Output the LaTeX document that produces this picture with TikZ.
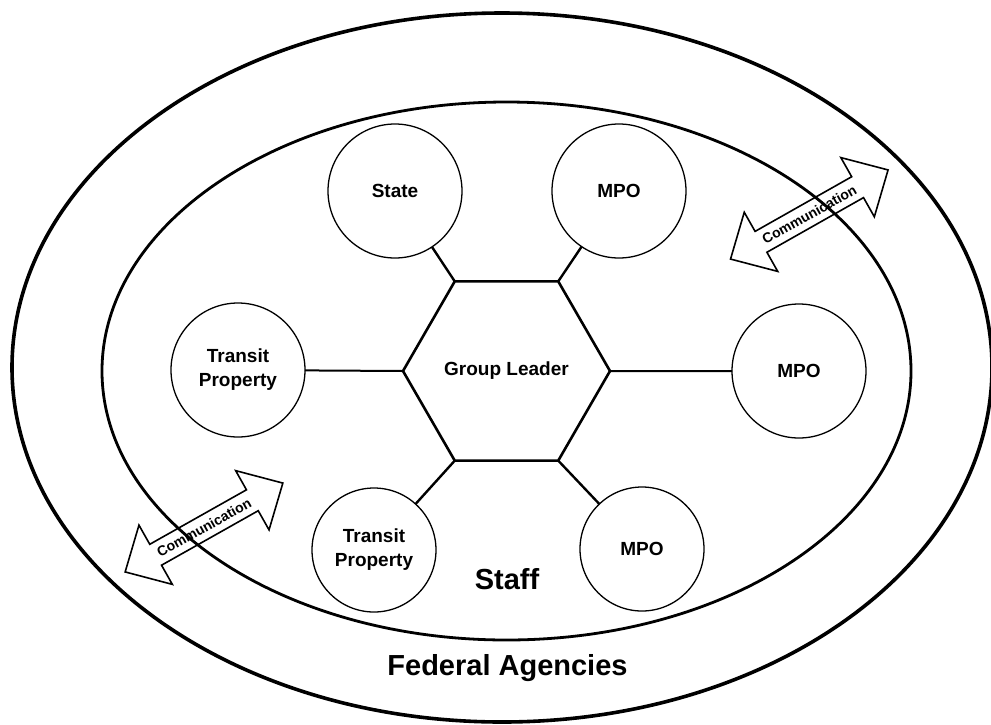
\documentclass[tikz,border=0pt]{standalone}
\usepackage{fontspec}
\setmainfont{Liberation Sans}
\usetikzlibrary{shapes.geometric}
\begin{document}
\begin{tikzpicture}[x=1pt,y=-1pt,
  member/.style={circle, draw, line width=1.3pt, inner sep=0pt, outer sep=0pt, align=center,
    font=\fontsize{19}{24}\selectfont\bfseries},
  bigm/.style={member, minimum size=134pt},
  smallm/.style={member, minimum size=124pt},
  hexbox/.style={regular polygon, regular polygon sides=6, draw, line width=2.6pt,
    minimum size=207pt, inner sep=0pt, outer sep=0pt, font=\fontsize{19}{24}\selectfont\bfseries},
  link/.style={line width=2.4pt},
  hlink/.style={line width=2pt},
  biglabel/.style={font=\fontsize{29}{34}\selectfont\bfseries, inner sep=0pt, anchor=base},
  commarrow/.style={line width=1.6pt, line join=miter},
  commtext/.style={font=\fontsize{14}{16}\selectfont\bfseries, inner sep=0pt}
]
\useasboundingbox (0,0) rectangle (991,724);

% federal agencies (outer) and staff (inner) ellipses
\draw[line width=3.6pt] (502,367.5) ellipse [x radius=490pt, y radius=354.5pt];
\draw[line width=2.8pt] (506.5,371) ellipse [x radius=404.5pt, y radius=269pt];

% hexagon
\node[hexbox] (hex) at (506.5,371) {Group Leader};

% member circles
\node[bigm] (state) at (395,191) {State};
\node[bigm] (mpoA) at (619,191) {MPO};
\node[bigm] (transL) at (238,370) {Transit\\Property};
\node[bigm] (mpoR) at (799,371) {MPO};
\node[smallm] (transB) at (374,550) {Transit\\Property};
\node[smallm] (mpoB) at (642,549) {MPO};

% connectors
\draw[link] (hex.120) -- (state);
\draw[link] (hex.60) -- (mpoA);
\draw[hlink] (hex.180) -- (transL);
\draw[hlink] (hex.0) -- (mpoR);
\draw[link] (hex.240) -- (transB);
\draw[link] (hex.300) -- (mpoB);

% labels
\node[biglabel] (staff) at (507,589) {Staff};
\node[biglabel] (fed) at (507.5,675) {Federal Agencies};

% communication arrows
\begin{scope}[shift={(809.3,214.5)}, rotate=29.5]
  \draw[commarrow] (-90.5,0) -- (-55.5,34) -- (-55.5,12) -- (55.5,12) -- (55.5,34) -- (90.5,0)
    -- (55.5,-34) -- (55.5,-12) -- (-55.5,-12) -- (-55.5,-34) -- cycle;
\end{scope}
\node[commtext, rotate=29.5] (commA) at (809.3,214.5) {Communication};

\begin{scope}[shift={(204,527.5)}, rotate=29.4]
  \draw[commarrow] (-90.5,0) -- (-55.5,34) -- (-55.5,12) -- (55.5,12) -- (55.5,34) -- (90.5,0)
    -- (55.5,-34) -- (55.5,-12) -- (-55.5,-12) -- (-55.5,-34) -- cycle;
\end{scope}
\node[commtext, rotate=29.4] (commB) at (204,527.5) {Communication};
\end{tikzpicture}
\end{document}
